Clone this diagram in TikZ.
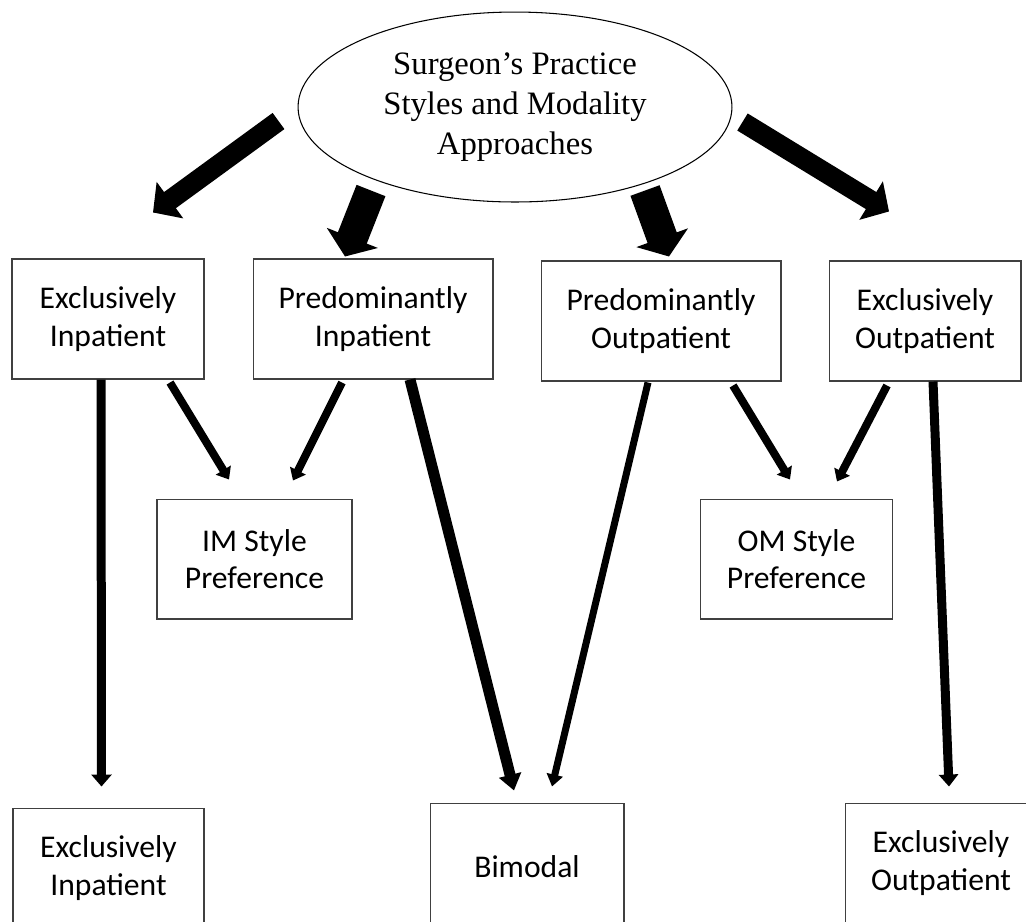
\documentclass[tikz,border=0pt]{standalone}
\usepackage{fontspec}
\setmainfont{Carlito}
\newfontfamily\timesfont{Liberation Serif}
\usetikzlibrary{arrows.meta,positioning,shapes.geometric}
\tikzset{font=\fontsize{18}{21.5}\selectfont}
\tikzset{box/.style={draw=black!75,line width=0.6pt,minimum height=2.4cm,inner sep=0pt,align=center}}
\tikzset{arr/.style n args={3}{line width=#1,-{Triangle[width=#2,length=#3]}}}

\begin{document}
\begin{tikzpicture}[x=0.02cm,y=-0.02cm]
  \useasboundingbox (0,0) rectangle (1026,921);
  \clip (0,0) rectangle (1026,921);
  \node[ellipse,draw,line width=0.6pt,minimum width=8.68cm,minimum height=3.8cm,inner sep=0pt,align=center,
        font=\timesfont\fontsize{18.6}{22.6}\selectfont] (src) at (515,107)
        {Surgeon’s Practice\\Styles and Modality\\Approaches};
  \node[box,minimum width=3.84cm] (exin) at (108,319) {Exclusively\\Inpatient};
  \node[box,minimum width=4.8cm] (prin) at (373,319) {Predominantly\\Inpatient};
  \node[box,minimum width=4.8cm] (prout) at (661,321) {Predominantly\\Outpatient};
  \node[box,minimum width=3.84cm] (exout) at (925,321) {Exclusively\\Outpatient};
  \node[box,minimum width=3.9cm] (im) at (254.5,559) {IM Style\\Preference};
  \node[box,minimum width=3.84cm] (om) at (796.5,559) {OM Style\\Preference};
  \node[box,minimum width=3.82cm] (exinb) at (108.5,868) {Exclusively\\Inpatient};
  \node[box,minimum width=3.88cm,minimum height=2.56cm] (bim) at (527,867) {Bimodal};
  \node[box,minimum width=3.84cm] (exoutb) at (941,863) {Exclusively\\Outpatient};

  \draw[arr={0.4cm}{0.88cm}{0.42cm}] ([shift={(-19,14)}]src.west) -- ([shift={(45,-46)}]exin.north);
  \draw[arr={0.62cm}{1.08cm}{0.4cm}] ([shift={(-144,-12)}]src.south) -- ([shift={(-28,-2)}]prin.north);
  \draw[arr={0.62cm}{1.08cm}{0.4cm}] ([shift={(130,-12)}]src.south) -- ([shift={(8,-4)}]prout.north);
  \draw[arr={0.4cm}{0.88cm}{0.42cm}] ([shift={(10,15)}]src.east) -- ([shift={(-36,-49)}]exout.north);

  \draw[arr={0.16cm}{0.34cm}{0.22cm}] ([shift={(62,3)}]exin.south) -- ([shift={(-25.5,-19)}]im.north);
  \draw[arr={0.16cm}{0.34cm}{0.22cm}] ([shift={(-31,3)}]prin.south) -- ([shift={(38.5,-18)}]im.north);
  \draw[arr={0.16cm}{0.34cm}{0.22cm}] ([shift={(72,4)}]prout.south) -- ([shift={(-6.5,-19)}]om.north);
  \draw[arr={0.16cm}{0.34cm}{0.22cm}] ([shift={(-38,4)}]exout.south) -- ([shift={(40.5,-17)}]om.north);

  \draw[arr={0.18cm}{0.4cm}{0.24cm}] ([shift={(-7,0)}]exin.south) -- ([shift={(-7,-21)}]exinb.north);
  \draw[arr={0.22cm}{0.44cm}{0.32cm}] ([shift={(37,0)}]prin.south) -- ([shift={(-13,-12)}]bim.north);
  \draw[arr={0.14cm}{0.32cm}{0.24cm}] ([shift={(-13,1)}]prout.south) -- ([shift={(25,-16)}]bim.north);
  \draw[arr={0.18cm}{0.38cm}{0.24cm}] ([shift={(8,0)}]exout.south) -- ([shift={(8,-16)}]exoutb.north);
\end{tikzpicture}
\end{document}
